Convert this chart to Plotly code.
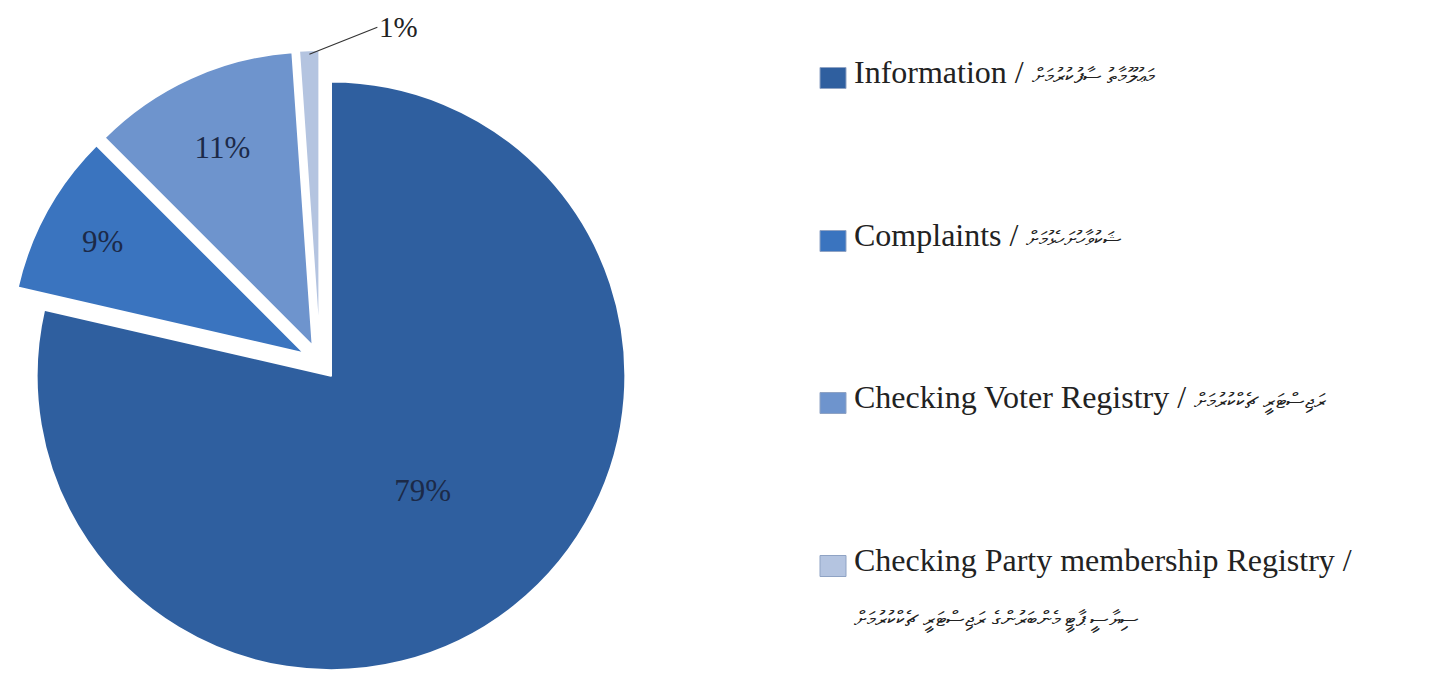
import math
import plotly.graph_objects as go

categories_en = ["Information", "Complaints", "Checking Voter Registry", "Checking Party membership Registry"]
categories_dv = ["މަޢުލޫމާތު ސާފުކުރުމަށް", "ޝަކުވާހުށަހެޅުމަށް", "ރަޖިސްޓަރީ ޗެކްކުރުމަށް",
                 "ސިޔާސީ ޕާޓީ މެންބަރުންގެ ރަޖިސްޓަރީ ޗެކްކުރުމަށް"]
values = [78.6, 8.9, 11.4, 1.1]
colors = ["#2F5F9F", "#3A74BF", "#6E94CD", "#B4C4E0"]

W, H = 1442, 676
OFF = 8  # page body margin offset of the figure
PULL = 0.06
dom_x = [0.0, 624 / W]
dom_y = [0.0, 644 / H]

labels = [f"{e} / {d}" for e, d in zip(categories_en, categories_dv)]

fig = go.Figure()
fig.add_trace(go.Pie(
    labels=labels,
    values=values,
    sort=False,
    direction="clockwise",
    rotation=0,
    pull=[PULL] * len(values),
    marker=dict(colors=colors, line=dict(color="white", width=2)),
    texttemplate="%{percent:.0%}",
    textposition=["inside", "inside", "inside", "none"],
    insidetextorientation="horizontal",
    textfont=dict(family="Liberation Serif", size=31, color="#1C2A48"),
    domain=dict(x=dom_x, y=dom_y),
    showlegend=False,
    hoverinfo="label+percent",
))

# label for the tiny slice, placed outside with a leader line (position derived from the data)
total = sum(values)
cum_before = sum(values[:3])
mid_frac = (cum_before + values[3] / 2) / total
ang = 2 * math.pi * mid_frac
box_w = (dom_x[1] - dom_x[0]) * W
box_h = (dom_y[1] - dom_y[0]) * H
r = min(box_w, box_h) / (2 + 2 * PULL)
cx = (dom_x[0] + dom_x[1]) / 2 * W
cy = (dom_y[0] + dom_y[1]) / 2 * H  # from bottom
dist = r * (1 + PULL) - 4
tip_x = cx + dist * math.sin(ang)
tip_y = cy + dist * math.cos(ang)
fig.add_annotation(x=tip_x / W, y=tip_y / H, xref="paper", yref="paper",
                   text=f"{round(values[3])}%", showarrow=True,
                   arrowhead=0, arrowwidth=1.2, arrowcolor="#333333",
                   ax=68, ay=-27, xanchor="left", yanchor="middle",
                   font=dict(family="Liberation Serif", size=29, color="#222222"))

# Legend drawn as annotations + squares, spread vertically like the original
square_y = [78, 241, 403, 566]
text_y = [72, 235, 397, 560]
font_main = dict(family="Liberation Serif", size=32, color="#222222")
for i, (en, dv) in enumerate(zip(categories_en, categories_dv)):
    yc = 1 - (square_y[i] - OFF) / H
    fig.add_shape(type="rect", xref="paper", yref="paper",
                  x0=(820 - OFF) / W, x1=(846 - OFF) / W,
                  y0=yc - 10.5 / H, y1=yc + 10.5 / H,
                  fillcolor=colors[i], line=dict(color="#8fa3c4", width=1))
    ty = 1 - (text_y[i] - OFF) / H
    dv_span = f"<span style='font-size:21px'>{dv}</span>"
    if i < 3:
        fig.add_annotation(x=844 / W, y=ty, xref="paper", yref="paper",
                           text=f"{en} / {dv_span}", showarrow=False,
                           xanchor="left", yanchor="middle", font=font_main)
    else:
        fig.add_annotation(x=844 / W, y=ty, xref="paper", yref="paper",
                           text=f"{en} /", showarrow=False,
                           xanchor="left", yanchor="middle", font=font_main)
        fig.add_annotation(x=844 / W, y=1 - (620 - OFF) / H, xref="paper", yref="paper",
                           text=dv_span, showarrow=False,
                           xanchor="left", yanchor="middle", font=font_main)

fig.update_layout(
    width=W, height=H,
    margin=dict(l=0, r=0, t=0, b=0),
    paper_bgcolor="white", plot_bgcolor="white",
)
fig.write_html("out.html")
